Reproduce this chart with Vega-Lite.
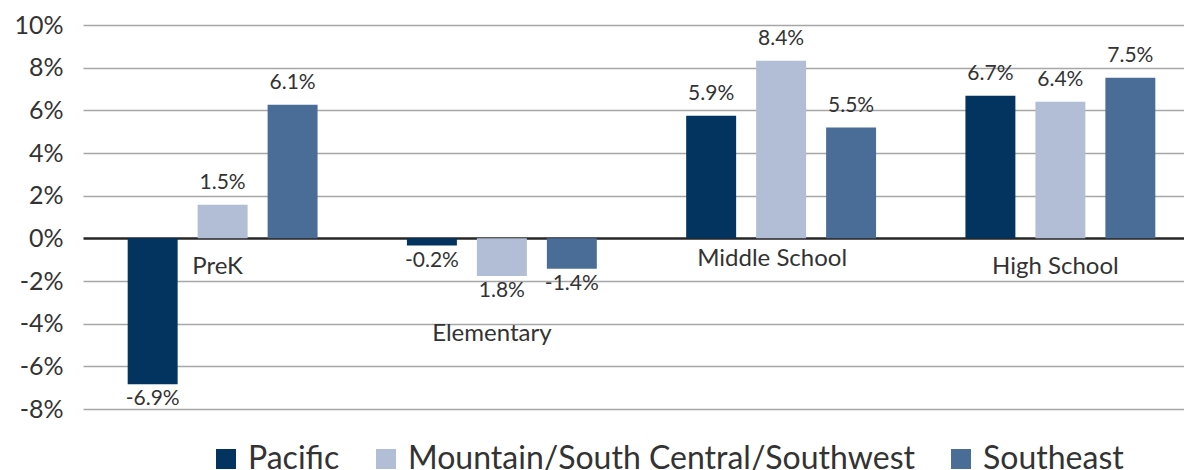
{
  "$schema": "https://vega.github.io/schema/vega-lite/v6.json",
  "width": 1106,
  "height": 384,
  "autosize": {"type": "none"},
  "padding": {"left": 78, "top": 25, "right": 0, "bottom": 61},
  "background": "white",
  "config": {
    "view": {"stroke": null},
    "font": "Lato",
    "text": {"font": "Lato"}
  },
  "data": {
    "values": [
      {"level": "PreK", "region": "Pacific", "value": -6.84, "label": "-6.9%"},
      {"level": "PreK", "region": "Mountain/South Central/Southwest", "value": 1.58, "label": "1.5%"},
      {"level": "PreK", "region": "Southeast", "value": 6.26, "label": "6.1%"},
      {"level": "Elementary", "region": "Pacific", "value": -0.34, "label": "-0.2%"},
      {"level": "Elementary", "region": "Mountain/South Central/Southwest", "value": -1.76, "label": "1.8%"},
      {"level": "Elementary", "region": "Southeast", "value": -1.42, "label": "-1.4%"},
      {"level": "Middle School", "region": "Pacific", "value": 5.75, "label": "5.9%"},
      {"level": "Middle School", "region": "Mountain/South Central/Southwest", "value": 8.32, "label": "8.4%"},
      {"level": "Middle School", "region": "Southeast", "value": 5.19, "label": "5.5%"},
      {"level": "High School", "region": "Pacific", "value": 6.68, "label": "6.7%"},
      {"level": "High School", "region": "Mountain/South Central/Southwest", "value": 6.4, "label": "6.4%"},
      {"level": "High School", "region": "Southeast", "value": 7.53, "label": "7.5%"}
    ]
  },
  "encoding": {
    "x": {
      "field": "level",
      "type": "nominal",
      "sort": ["PreK", "Elementary", "Middle School", "High School"],
      "scale": {"range": [5, 1122], "paddingInner": 0.32, "paddingOuter": 0.16},
      "axis": {
        "title": null,
        "orient": "bottom",
        "offset": -171,
        "domain": false,
        "ticks": false,
        "tickSize": 0,
        "labelAngle": 0,
        "labelFont": "Lato",
        "labelFontSize": 24,
        "labelColor": "#333333",
        "labelBaseline": "alphabetic",
        "labelPadding": {
          "condition": [
            {"test": "datum.value == 'Elementary'", "value": 102},
            {"test": "datum.value == 'Middle School'", "value": 27}
          ],
          "value": 35
        },
        "labelOffset": {
          "condition": [
            {"test": "datum.value == 'Elementary'", "value": -10},
            {"test": "datum.value == 'Middle School'", "value": -9}
          ],
          "value": -5
        }
      }
    },
    "xOffset": {
      "field": "region",
      "type": "nominal",
      "sort": ["Pacific", "Mountain/South Central/Southwest", "Southeast"],
      "scale": {"paddingInner": 0.286, "paddingOuter": 0}
    },
    "y": {
      "field": "value",
      "type": "quantitative",
      "scale": {"domain": [-8, 10], "nice": false},
      "axis": {
        "title": null,
        "values": [-8, -6, -4, -2, 0, 2, 4, 6, 8, 10],
        "labelExpr": "datum.value + '%'",
        "domain": false,
        "ticks": false,
        "labelPadding": 15,
        "labelFont": "Lato",
        "labelFontSize": 25,
        "labelColor": "#333333",
        "gridColor": {"condition": {"test": "datum.value === 0", "value": "#262626"}, "value": "#a6a6a6"},
        "gridWidth": {"condition": {"test": "datum.value === 0", "value": 2.5}, "value": 1.5}
      }
    }
  },
  "layer": [
    {
      "mark": {"type": "bar"},
      "encoding": {
        "color": {
          "field": "region",
          "type": "nominal",
          "sort": ["Pacific", "Mountain/South Central/Southwest", "Southeast"],
          "scale": {"range": ["#03345f", "#b1bed6", "#4a6d98"]},
          "legend": {
            "title": null,
            "orient": "none",
            "direction": "horizontal",
            "legendX": 132,
            "legendY": 418,
            "symbolType": "square",
            "symbolSize": 400,
            "symbolStrokeWidth": 0,
            "symbolOpacity": 1,
            "labelFont": "Lato",
            "labelFontSize": 32,
            "labelColor": "#333333",
            "labelOffset": 6,
            "columnPadding": 30,
            "labelLimit": 700
          }
        }
      }
    },
    {
      "transform": [{"filter": "datum.value >= 0"}],
      "mark": {"type": "text", "baseline": "alphabetic", "dy": -16, "fontSize": 21, "color": "#333333", "font": "Lato"},
      "encoding": {"text": {"field": "label"}}
    },
    {
      "transform": [{"filter": "datum.value < 0"}],
      "mark": {"type": "text", "baseline": "alphabetic", "dy": 21, "fontSize": 21, "color": "#333333", "font": "Lato"},
      "encoding": {"text": {"field": "label"}}
    }
  ]
}
